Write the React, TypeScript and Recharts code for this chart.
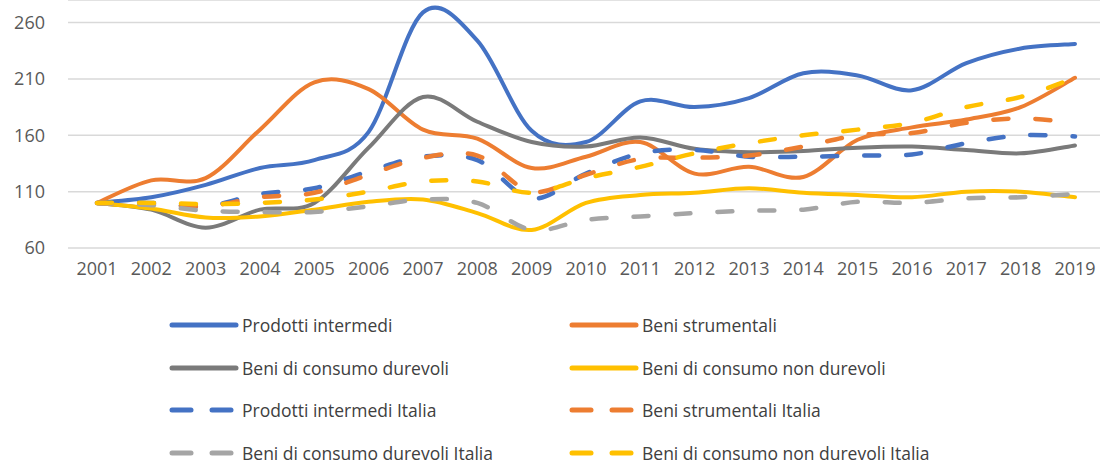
import { LineChart, Line, XAxis, YAxis, CartesianGrid } from 'recharts';

const YEARS = ['2001', '2002', '2003', '2004', '2005', '2006', '2007', '2008', '2009', '2010', '2011', '2012', '2013', '2014', '2015', '2016', '2017', '2018', '2019'];
const Y_TICKS = [60, 110, 160, 210, 260];

// Indici, 2001 = 100
const prodottiIntermedi = [100, 105, 116, 131, 138, 163, 269, 244, 164, 154, 190, 185, 193, 215, 213, 200, 224, 237, 241];
const beniStrumentali = [100, 120, 122, 165, 207, 201, 165, 157, 131, 141, 154, 126, 132, 123, 156, 167, 174, 185, 211];
const beniDurevoli = [100, 94, 78, 94, 100, 149, 194, 172, 154, 150, 158, 148, 145, 146, 149, 150, 147, 144, 151];
const beniNonDurevoli = [100, 95, 87, 88, 94, 101, 103, 91, 76, 100, 107, 109, 113, 109, 107, 105, 110, 110, 105];
const prodottiIntermediItalia = [100, 100, 97, 108, 113, 128, 141, 138, 104, 126, 144, 147, 141, 141, 142, 143, 153, 160, 159];
const beniStrumentaliItalia = [100, 99, 97, 105, 109, 125, 140, 142, 110, 125, 139, 140, 142, 150, 160, 162, 171, 175, 171];
const beniDurevoliItalia = [100, 98, 93, 92, 92, 97, 103, 100, 76, 85, 88, 91, 93, 94, 101, 100, 104, 105, 108];
const beniNonDurevoliItalia = [100, 100, 99, 100, 103, 110, 119, 119, 109, 122, 132, 144, 153, 160, 165, 171, 185, 194, 211];

const SERIES = [
  { key: 'pi', name: 'Prodotti intermedi', values: prodottiIntermedi, color: '#4472C4', dashed: false },
  { key: 'bs', name: 'Beni strumentali', values: beniStrumentali, color: '#ED7D31', dashed: false },
  { key: 'bd', name: 'Beni di consumo durevoli', values: beniDurevoli, color: '#7A7A7A', dashed: false },
  { key: 'bn', name: 'Beni di consumo non durevoli', values: beniNonDurevoli, color: '#FFC000', dashed: false },
  { key: 'pii', name: 'Prodotti intermedi Italia', values: prodottiIntermediItalia, color: '#4472C4', dashed: true },
  { key: 'bsi', name: 'Beni strumentali Italia', values: beniStrumentaliItalia, color: '#ED7D31', dashed: true },
  { key: 'bdi', name: 'Beni di consumo durevoli Italia', values: beniDurevoliItalia, color: '#A5A5A5', dashed: true },
  { key: 'bni', name: 'Beni di consumo non durevoli Italia', values: beniNonDurevoliItalia, color: '#FFC000', dashed: true },
];

const DATA = YEARS.map((year, i) => {
  const row: Record<string, string | number> = { year };
  SERIES.forEach((s) => { row[s.key] = s.values[i]; });
  return row;
});

const FONT = '"Open Sans", "DejaVu Sans", sans-serif';

// Excel-like smoothed line (Catmull-Rom through the points)
function excelSmooth(context: any) {
  let pts: number[][] = [];
  return {
    areaStart() {},
    areaEnd() {},
    lineStart() { pts = []; },
    point(x: number, y: number) { pts.push([+x, +y]); },
    lineEnd() {
      const n = pts.length;
      if (!n) return;
      context.moveTo(pts[0][0], pts[0][1]);
      for (let i = 0; i < n - 1; i++) {
        const p0 = pts[i - 1] || pts[i];
        const p1 = pts[i];
        const p2 = pts[i + 1];
        const p3 = pts[i + 2] || p2;
        context.bezierCurveTo(
          p1[0] + (p2[0] - p0[0]) / 6, p1[1] + (p2[1] - p0[1]) / 6,
          p2[0] - (p3[0] - p1[0]) / 6, p2[1] - (p3[1] - p1[1]) / 6,
          p2[0], p2[1],
        );
      }
    },
  };
}

function LegendIcon({ color, dashed }: { color: string; dashed: boolean }) {
  return (
    <svg width={72} height={10} style={{ display: 'block' }}>
      {dashed ? (
        <>
          <line x1={3} y1={5} x2={22} y2={5} stroke={color} strokeWidth={5} strokeLinecap="round" />
          <line x1={43} y1={5} x2={62} y2={5} stroke={color} strokeWidth={5} strokeLinecap="round" />
        </>
      ) : (
        <line x1={3} y1={5} x2={67} y2={5} stroke={color} strokeWidth={5} strokeLinecap="round" />
      )}
    </svg>
  );
}

export default function App() {
  return (
    <div style={{ position: 'absolute', left: 0, top: 0, width: 1106, height: 464, background: '#fff', fontFamily: FONT }}>
      <LineChart width={1106} height={292} data={DATA} margin={{ top: 0, right: 6, left: 0, bottom: 14 }}>
        <CartesianGrid stroke="#D9D9D9" strokeWidth={1.5} vertical={false} />
        <XAxis
          dataKey="year"
          axisLine={false}
          tickLine={false}
          interval={0}
          padding={{ left: 29, right: 25 }}
          tick={{ fill: '#595959', fontSize: 18, fontFamily: FONT }}
          tickMargin={8}
          height={30}
        />
        <YAxis
          domain={[60, 280]}
          ticks={Y_TICKS}
          axisLine={false}
          tickLine={false}
          width={68}
          tickMargin={17}
          tick={{ fill: '#595959', fontSize: 18, fontFamily: FONT }}
        />
        {SERIES.map((s) => (
          <Line
            key={s.key}
            dataKey={s.key}
            name={s.name}
            type={excelSmooth as any}
            stroke={s.color}
            strokeWidth={s.dashed ? 4.5 : 4}
            strokeDasharray={s.dashed ? '15 27' : undefined}
            strokeLinecap="round"
            dot={false}
            activeDot={false}
            isAnimationActive={false}
          />
        ))}
      </LineChart>
      <div style={{ position: 'absolute', left: 169, top: 304, display: 'grid', gridTemplateColumns: '400px 400px', rowGap: 0 }}>
        {SERIES.map((s) => (
          <div key={s.key} style={{ display: 'flex', alignItems: 'center', height: 42.5 }}>
            <LegendIcon color={s.color} dashed={s.dashed} />
            <span style={{ fontSize: 17.5, color: '#404040', marginLeft: 1, whiteSpace: 'nowrap' }}>{s.name}</span>
          </div>
        ))}
      </div>
    </div>
  );
}
